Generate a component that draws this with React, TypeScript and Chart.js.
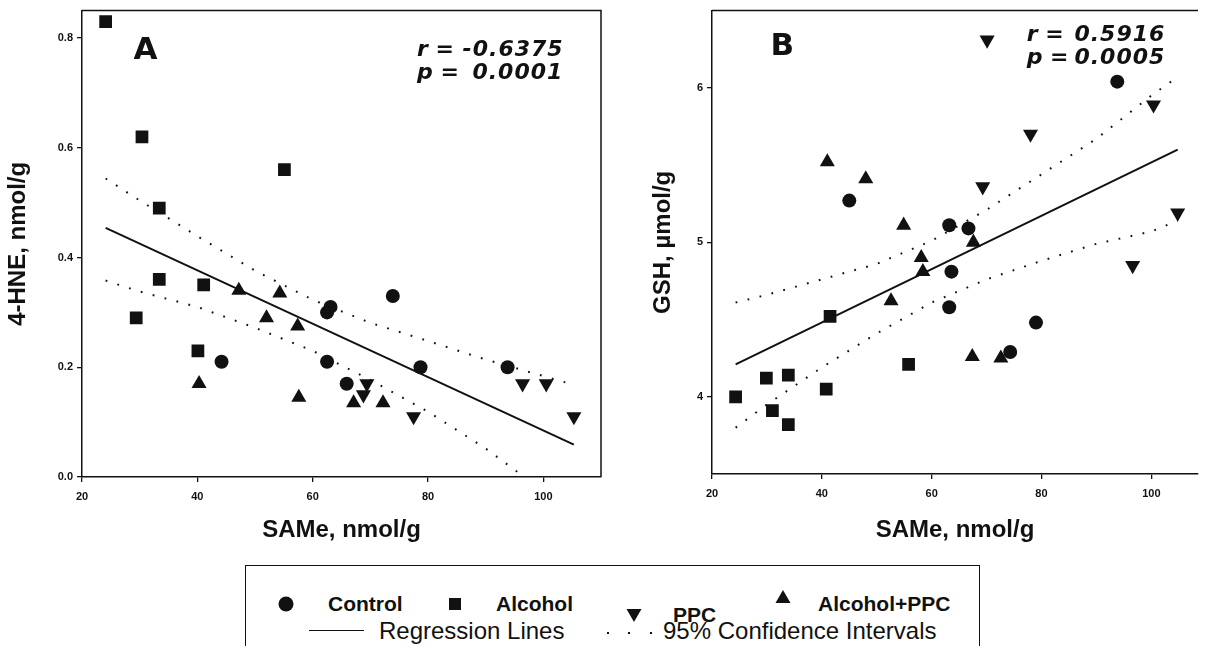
import React, { useEffect, useRef } from "react";
import { Chart, registerables } from "chart.js";
Chart.register(...registerables);

// ---------- Panel A : SAMe (nmol/g) vs 4-HNE (nmol/g) ----------
const controlA_x = [44.2, 63.1, 62.5, 73.9, 62.5, 78.7, 93.8, 65.9];
const controlA_y = [0.21, 0.31, 0.30, 0.33, 0.21, 0.20, 0.20, 0.17];
const alcoholA_x = [24.1, 30.4, 55.1, 33.4, 33.4, 41.1, 29.4, 40.1];
const alcoholA_y = [0.83, 0.62, 0.56, 0.49, 0.36, 0.35, 0.29, 0.23];
const ppcA_x = [69.4, 68.8, 77.5, 96.4, 100.5, 105.3];
const ppcA_y = [0.17, 0.15, 0.11, 0.17, 0.17, 0.11];
const alcPpcA_x = [47.2, 54.3, 52.0, 57.4, 40.3, 57.6, 67.1, 72.2];
const alcPpcA_y = [0.34, 0.335, 0.29, 0.275, 0.17, 0.145, 0.135, 0.135];
const regA_x = [24.1, 105.3];
const regA_y = [0.454, 0.059];
const ciUpA_x = [24.1, 30, 40, 50, 60, 70, 80, 90, 100, 105.3];
const ciUpA_y = [0.544, 0.504, 0.439, 0.376, 0.323, 0.281, 0.248, 0.214, 0.184, 0.168];
const ciLoA_x = [24.1, 30, 40, 50, 60, 70, 80, 90, 96.7];
const ciLoA_y = [0.358, 0.338, 0.310, 0.272, 0.230, 0.177, 0.119, 0.052, 0.0];
const xTicks = [20, 40, 60, 80, 100];
const yTicksA = [0.0, 0.2, 0.4, 0.6, 0.8];
const statsA = ["r =", "-0.6375", "p =", "0.0001"];

// ---------- Panel B : SAMe (nmol/g) vs GSH (µmol/g) ----------
const controlB_x = [93.8, 45.0, 63.2, 66.7, 63.6, 63.2, 79.0, 74.3];
const controlB_y = [6.04, 5.27, 5.11, 5.09, 4.81, 4.58, 4.48, 4.29];
const alcoholB_x = [41.5, 55.8, 24.3, 29.9, 33.9, 40.8, 31.0, 33.9];
const alcoholB_y = [4.52, 4.21, 4.0, 4.12, 4.14, 4.05, 3.91, 3.82];
const ppcB_x = [70.1, 78.0, 100.4, 69.3, 104.8, 96.6];
const ppcB_y = [6.31, 5.70, 5.89, 5.36, 5.19, 4.85];
const alcPpcB_x = [41.0, 48.0, 54.9, 67.6, 58.1, 58.4, 52.6, 67.4, 72.6];
const alcPpcB_y = [5.52, 5.41, 5.11, 5.0, 4.90, 4.81, 4.62, 4.26, 4.25];
const regB_x = [24.3, 104.8];
const regB_y = [4.21, 5.60];
const ciUpB_x = [24.3, 30, 40, 50, 60, 70, 80, 90, 100, 104.8];
const ciUpB_y = [4.61, 4.66, 4.76, 4.86, 5.01, 5.21, 5.44, 5.67, 5.95, 6.07];
const ciLoB_x = [24.3, 30, 40, 50, 60, 70, 80, 90, 100, 104.8];
const ciLoB_y = [3.80, 3.95, 4.19, 4.41, 4.61, 4.76, 4.88, 4.99, 5.07, 5.14];
const yTicksB = [4, 5, 6];
const statsB = ["r =", "0.5916", "p =", "0.0005"];

const legendGroups = ["Control", "Alcohol", "PPC", "Alcohol+PPC"];
const legendLines = ["Regression Lines", "95% Confidence Intervals"];

const INK = "#111";
const SANS = "Liberation Sans, Arial, sans-serif";

const zip = (xs: number[], ys: number[]) => xs.map((x, i) => ({ x, y: ys[i] }));

const textMarks = {
  id: "textMarks",
  afterDatasetsDraw(chart: any) {
    const o = chart.options.plugins.textMarks;
    if (!o) return;
    const { ctx, chartArea } = chart;
    const xs = chart.scales.x;
    const ys = chart.scales.y;
    ctx.save();
    ctx.strokeStyle = INK;
    ctx.lineWidth = 1.5;
    ctx.beginPath();
    ctx.moveTo(chartArea.left, chartArea.top);
    ctx.lineTo(chartArea.right, chartArea.top);
    if (o.rightBorder) ctx.lineTo(chartArea.right, chartArea.bottom);
    ctx.stroke();
    ctx.fillStyle = INK;
    ctx.textBaseline = "alphabetic";
    for (const it of o.items) {
      ctx.font = it.font;
      ctx.textAlign = it.align || "left";
      try { (ctx as any).letterSpacing = it.spacing || "0px"; } catch (e) {}
      ctx.fillText(it.text, xs.getPixelForValue(it.x), ys.getPixelForValue(it.y));
    }
    ctx.restore();
  },
};

function makeConfig(p: any) {
  const pt = (label: string, xs: number[], ys: number[], style: string, r: number, rot = 0) => ({
    label,
    data: zip(xs, ys),
    pointStyle: style,
    pointRadius: r,
    rotation: rot,
    backgroundColor: INK,
    borderColor: INK,
    borderWidth: 0,
    showLine: false,
  });
  const ln = (xs: number[], ys: number[], dotted: boolean) => ({
    label: dotted ? "ci" : "reg",
    data: zip(xs, ys),
    showLine: true,
    pointRadius: 0,
    borderColor: INK,
    borderWidth: 2,
    borderDash: dotted ? [1.8, 10.5] : [],
    tension: 0,
    fill: false,
  });
  return {
    type: "scatter",
    data: {
      datasets: [
        ln(p.ciUpX, p.ciUpY, true),
        ln(p.ciLoX, p.ciLoY, true),
        ln(p.regX, p.regY, false),
        pt(legendGroups[3], p.apX, p.apY, "triangle", 8.7),
        pt(legendGroups[2], p.ppX, p.ppY, "triangle", 8.7, 180),
        pt(legendGroups[1], p.alX, p.alY, "rect", 9),
        pt(legendGroups[0], p.coX, p.coY, "circle", 7),
      ],
    },
    options: {
      responsive: false,
      animation: false,
      devicePixelRatio: 1,
      layout: { padding: { top: 10, right: p.padRight, left: 0, bottom: 0 } },
      plugins: {
        legend: { display: false },
        tooltip: { enabled: false },
        textMarks: { items: p.marks, rightBorder: p.rightBorder },
      },
      scales: {
        x: {
          type: "linear",
          min: 20,
          max: p.xMax,
          afterBuildTicks: (s: any) => { s.ticks = xTicks.map((v) => ({ value: v })); },
          afterFit: (s: any) => { s.height = p.xAxisH; },
          ticks: {
            color: INK,
            font: { family: SANS, weight: "bold", size: 11 },
            padding: 8,
            callback: (v: any) => String(v),
          },
          grid: { drawOnChartArea: false, drawTicks: true, tickLength: 5, color: INK, lineWidth: 1.3 },
          border: { display: true, color: INK, width: 1.5 },
          title: {
            display: true,
            text: "SAMe, nmol/g",
            color: INK,
            font: { family: SANS, weight: "bold", size: 24 },
            padding: { top: 0, bottom: 15 },
          },
        },
        y: {
          type: "linear",
          min: p.yMin,
          max: p.yMax,
          afterBuildTicks: (s: any) => { s.ticks = p.yTicks.map((v: number) => ({ value: v })); },
          afterFit: (s: any) => { s.width = p.yAxisW; },
          ticks: {
            color: INK,
            font: { family: SANS, weight: "bold", size: 11 },
            padding: 4,
            callback: p.yFmt,
          },
          grid: { drawOnChartArea: false, drawTicks: true, tickLength: 5, color: INK, lineWidth: 1.3 },
          border: { display: true, color: INK, width: 1.5 },
          title: {
            display: true,
            text: p.yTitle,
            color: INK,
            font: { family: SANS, weight: "bold", size: 24 },
            padding: { top: p.yTitlePad, bottom: 0 },
          },
        },
      },
    },
    plugins: [textMarks],
  };
}

const bigFont = "bold 31px 'DejaVu Sans', sans-serif";
const statFont = "italic bold 22px 'DejaVu Sans', sans-serif";
const SP = "1px";

const panelA = {
  coX: controlA_x, coY: controlA_y, alX: alcoholA_x, alY: alcoholA_y,
  ppX: ppcA_x, ppY: ppcA_y, apX: alcPpcA_x, apY: alcPpcA_y,
  regX: regA_x, regY: regA_y, ciUpX: ciUpA_x, ciUpY: ciUpA_y, ciLoX: ciLoA_x, ciLoY: ciLoA_y,
  xMax: 110, yMin: 0, yMax: 0.85, yTicks: yTicksA,
  yFmt: (v: any) => Number(v).toFixed(1),
  yTitle: "4-HNE, nmol/g", yTitlePad: 4, yAxisW: 82, xAxisH: 83, padRight: 7, rightBorder: true,
  marks: [
    { text: "A", x: 31, y: 0.762, font: bigFont, align: "center" },
    { text: statsA[0], x: 78.1, y: 0.767, font: statFont },
    { text: statsA[1], x: 86.0, y: 0.767, font: statFont, spacing: SP },
    { text: statsA[2], x: 78.1, y: 0.725, font: statFont },
    { text: statsA[3], x: 87.7, y: 0.725, font: statFont, spacing: SP },
  ],
};

const panelB = {
  coX: controlB_x, coY: controlB_y, alX: alcoholB_x, alY: alcoholB_y,
  ppX: ppcB_x, ppY: ppcB_y, apX: alcPpcB_x, apY: alcPpcB_y,
  regX: regB_x, regY: regB_y, ciUpX: ciUpB_x, ciUpY: ciUpB_y, ciLoX: ciLoB_x, ciLoY: ciLoB_y,
  xMax: 108.5, yMin: 3.5, yMax: 6.5, yTicks: yTicksB,
  yFmt: (v: any) => String(v),
  yTitle: "GSH, \u00b5mol/g", yTitlePad: 29, yAxisW: 92, xAxisH: 86, padRight: 0, rightBorder: false,
  marks: [
    { text: "B", x: 32.8, y: 6.21, font: bigFont, align: "center" },
    { text: statsB[0], x: 77.3, y: 6.305, font: statFont },
    { text: statsB[1], x: 86.0, y: 6.305, font: statFont, spacing: SP },
    { text: statsB[2], x: 77.3, y: 6.155, font: statFont },
    { text: statsB[3], x: 86.0, y: 6.155, font: statFont, spacing: SP },
  ],
};

function Panel({ cfg, left, width }: { cfg: any; left: number; width: number }) {
  const ref = useRef<HTMLCanvasElement | null>(null);
  useEffect(() => {
    if (!ref.current) return;
    const chart = new Chart(ref.current, makeConfig(cfg) as any);
    return () => chart.destroy();
  }, []);
  return (
    <canvas
      ref={ref}
      width={width}
      height={560}
      style={{ position: "absolute", left, top: 0, width, height: 560 }}
    />
  );
}

function Marker({ kind }: { kind: string }) {
  const s = 18;
  let shape: any = null;
  if (kind === "circle") shape = <circle cx={9} cy={9} r={7.5} fill={INK} />;
  if (kind === "rect") shape = <rect x={3} y={3} width={12} height={12} fill={INK} />;
  if (kind === "down") shape = <polygon points="1.5,4 16.5,4 9,17" fill={INK} />;
  if (kind === "up") shape = <polygon points="9,1 16.5,14 1.5,14" fill={INK} />;
  return <svg width={s} height={s} style={{ display: "block" }}>{shape}</svg>;
}

function Legend() {
  const bold: any = { position: "absolute", fontFamily: SANS, fontWeight: "bold", fontSize: 21, lineHeight: "24px", whiteSpace: "nowrap", color: INK };
  const reg: any = { position: "absolute", fontFamily: SANS, fontSize: 24, lineHeight: "26px", whiteSpace: "nowrap", color: INK };
  const mk = (l: number, t: number, k: string) => (
    <div style={{ position: "absolute", left: l - 9, top: t - 9 }}><Marker kind={k} /></div>
  );
  const dot = (l: number) => (
    <div style={{ position: "absolute", left: l - 1, top: 66, width: 2, height: 2, background: INK }} />
  );
  return (
    <div style={{ position: "absolute", left: 245, top: 565, width: 735, height: 120, borderLeft: "1.5px solid #111", borderTop: "1.5px solid #111", borderRight: "1.5px solid #111", boxSizing: "border-box" }}>
      {mk(40, 38, "circle")}
      <div style={{ ...bold, left: 82, top: 26 }}>{legendGroups[0]}</div>
      {mk(209, 38, "rect")}
      <div style={{ ...bold, left: 250, top: 26 }}>{legendGroups[1]}</div>
      {mk(388, 48, "down")}
      <div style={{ ...bold, left: 427, top: 37 }}>{legendGroups[2]}</div>
      {mk(537, 32, "up")}
      <div style={{ ...bold, left: 572, top: 26 }}>{legendGroups[3]}</div>
      <div style={{ position: "absolute", left: 63, top: 64, width: 55, height: 0, borderTop: "1.5px solid #111" }} />
      <div style={{ ...reg, left: 133, top: 52 }}>{legendLines[0]}</div>
      {dot(362)}
      {dot(383)}
      {dot(405)}
      <div style={{ ...reg, left: 417, top: 52 }}>{legendLines[1]}</div>
    </div>
  );
}

export default function App() {
  return (
    <div style={{ position: "fixed", left: 0, top: 0, width: 1207, height: 646, overflow: "hidden", background: "#fff" }}>
      <Panel cfg={panelA} left={0} width={610} />
      <Panel cfg={panelB} left={620} width={587} />
      <Legend />
    </div>
  );
}
